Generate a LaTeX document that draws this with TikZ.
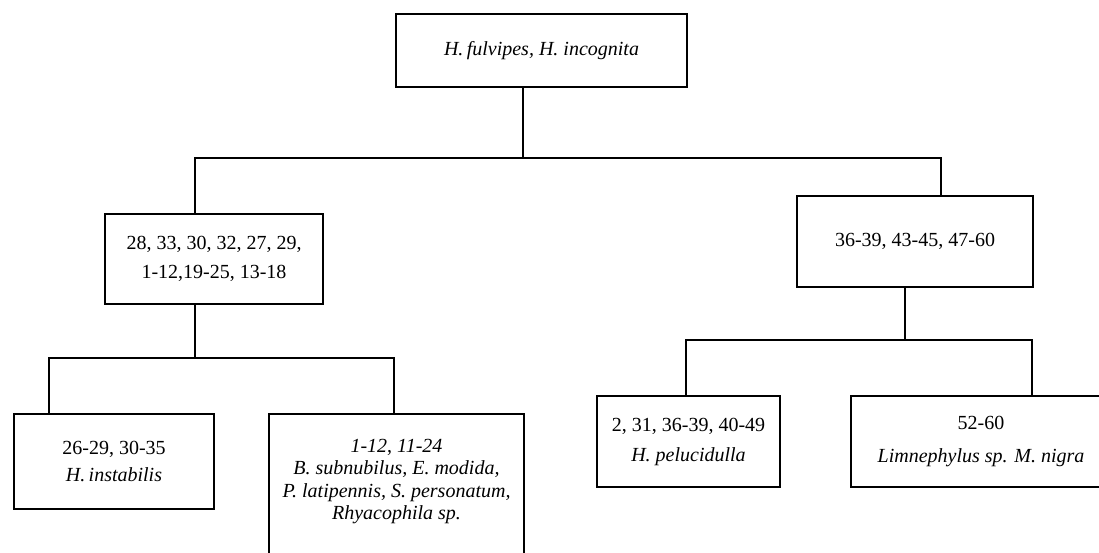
\documentclass[tikz,border=0pt]{standalone}
\usepackage{fontspec}
\setmainfont{Liberation Serif}
\usetikzlibrary{positioning}

\begin{document}
\begin{tikzpicture}[
    x=1pt, y=-1pt,
    taxon/.style={rectangle, draw, line width=2pt, anchor=north west, align=center, inner sep=0pt, font=\fontsize{20}{28}\selectfont},
    link/.style={line width=1.5pt}
]
\useasboundingbox (0,0) rectangle (1099,552);
\clip (0,0) rectangle (1099,552);

\node[taxon, minimum width=291, minimum height=73] (root) at (395,13) {\textit{H.\,fulvipes, H. incognita}};
\node[taxon, minimum width=218, minimum height=90] (mixed) at (104,213) {28, 33, 30, 32, 27, 29,\\[1pt]1-12,19-25, 13-18};
\node[taxon, minimum width=236, minimum height=91] (late) at (796,195) {36-39, 43-45, 47-60};

\node[taxon, minimum width=200, minimum height=95] (instab) at (13,413) {26-29, 30-35\\[-1pt]\textit{H.\,instabilis}};
\node[taxon, minimum width=255, minimum height=160] (rhyac) at (268,413) {};
\node[below=26pt of rhyac.north, align=center, inner sep=0pt, font=\fontsize{20}{22.5}\selectfont] (rhyactext)
    {\textit{1-12}, \textit{11-24}\\\textit{B. subnubilus, E. modida,}\\\textit{P. latipennis, S. personatum,}\\\textit{Rhyacophila sp.}};

\node[taxon, minimum width=183, minimum height=91] (pelu) at (596,395) {2, 31, 36-39, 40-49\\[2pt]\textit{H. pelucidulla}};
\node[taxon, minimum width=260, minimum height=91] (limne) at (850,395) {52-60\\[5pt]\textit{Limnephylus sp. M. nigra}};

% forks
\coordinate (fork) at (523,158);
\coordinate (forkL) at (195,158);
\coordinate (forkR) at (941,158);
\coordinate (subL) at (195,358);
\coordinate (subLa) at (49,358);
\coordinate (subLb) at (394,358);
\coordinate (subR) at (905,340);
\coordinate (subRa) at (686,340);
\coordinate (subRb) at (1032,340);

\draw[link] (fork |- root.south) -- (fork);
\draw[link] (forkL |- mixed.north) -- (forkL) -- (forkR) -- (forkR |- late.north);

\draw[link] (subL |- mixed.south) -- (subL);
\draw[link] (subLa |- instab.north) -- (subLa) -- (subLb) -- (subLb |- rhyac.north);

\draw[link] (subR |- late.south) -- (subR);
\draw[link] (subRa |- pelu.north) -- (subRa) -- (subRb) -- (subRb |- limne.north);

\end{tikzpicture}
\end{document}
